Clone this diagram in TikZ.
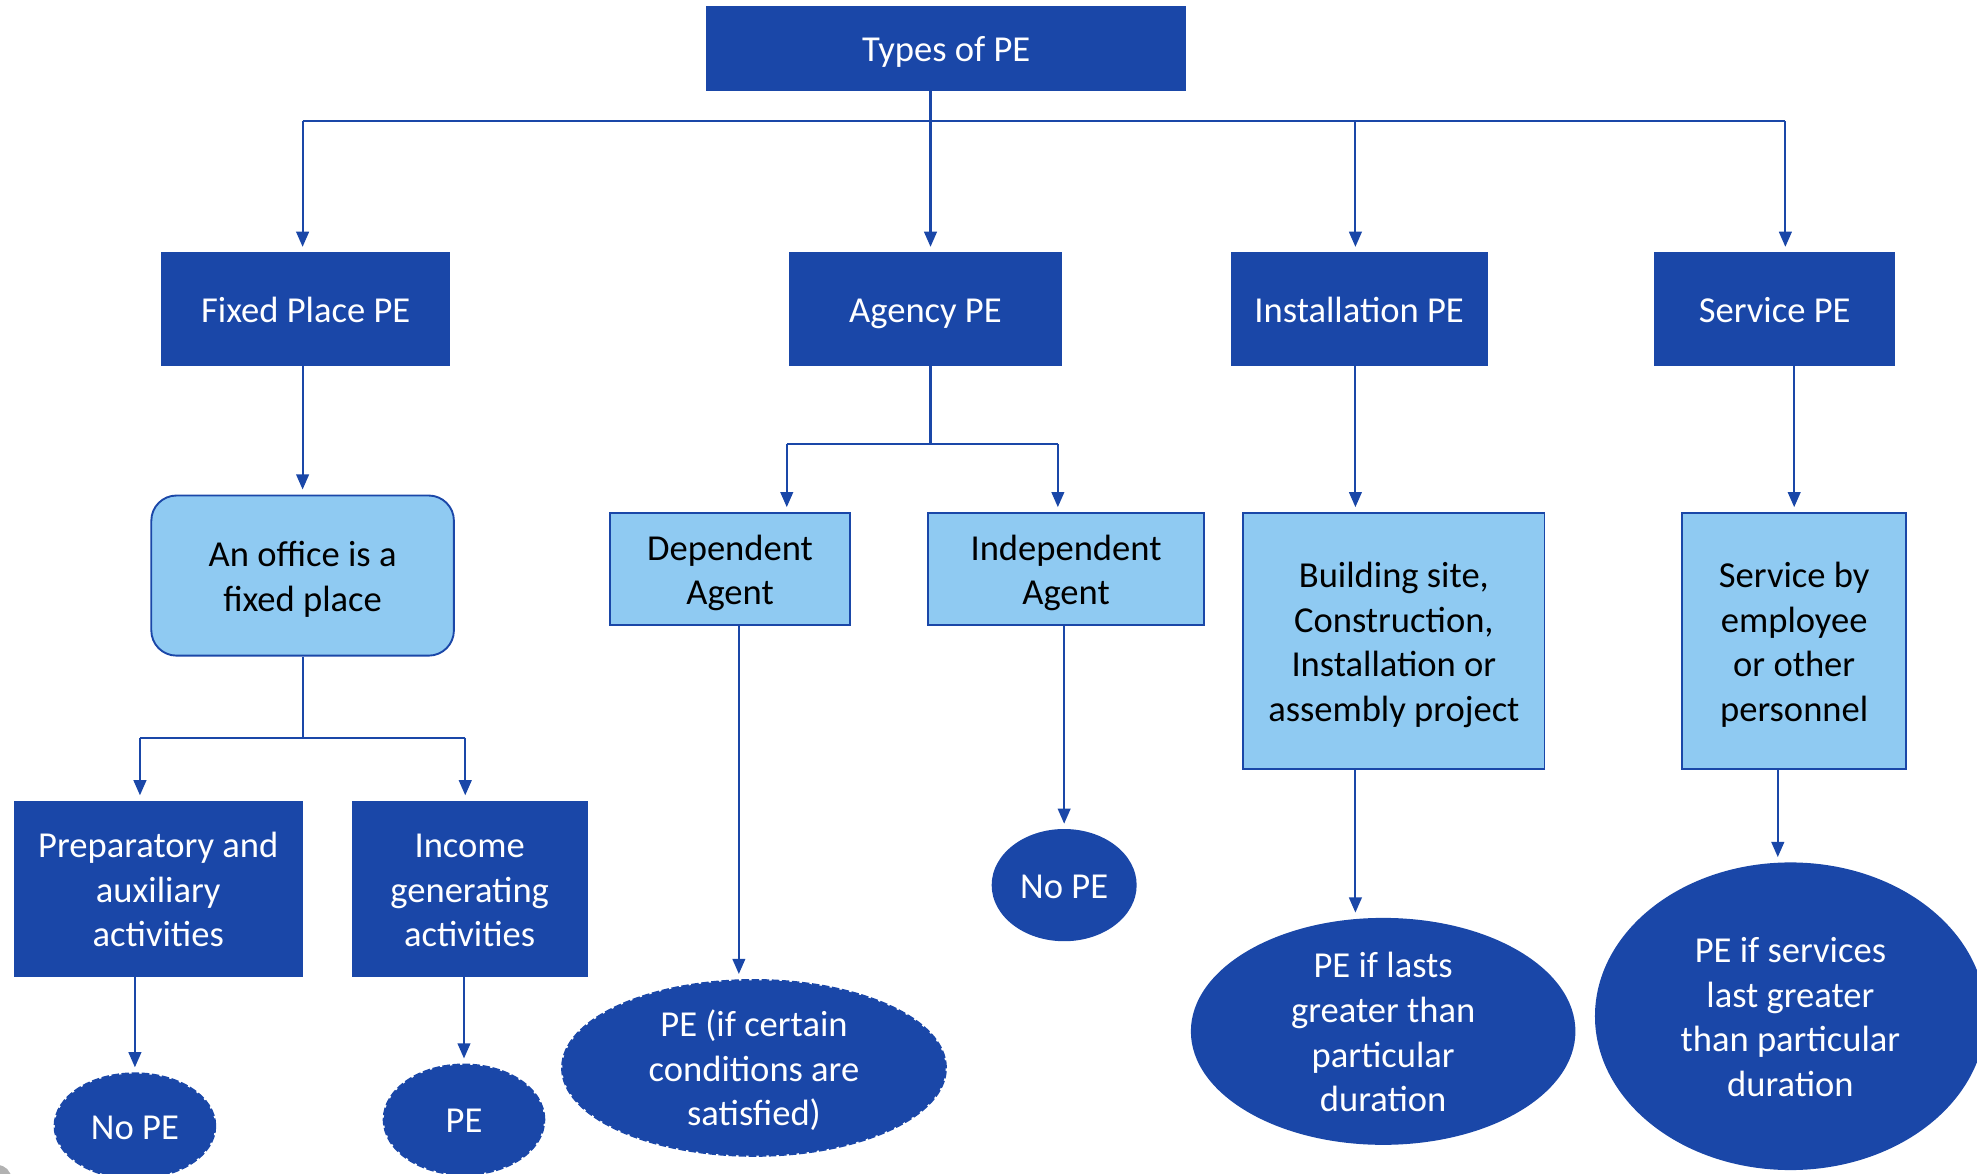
\documentclass[tikz,border=0pt]{standalone}
\usepackage{fontspec}
\setmainfont{Carlito}
\usetikzlibrary{arrows.meta,shapes.geometric}
\definecolor{peblue}{RGB}{26,71,168}
\definecolor{pelight}{RGB}{143,202,242}
% fixed ascent for the first line of every label
\newcommand\topstrut{\rule{0pt}{28.5pt}}

\begin{document}
\begin{tikzpicture}[x=1pt,y=-1pt,
  every node/.style={font=\fontsize{29}{35.5}\selectfont, align=center, inner sep=0pt,
    execute at begin node={\rule{0pt}{28.5pt}},
    execute at end node={\rule[-7.5pt]{0pt}{0pt}}},
  darkbox/.style={rectangle, fill=peblue, text=white},
  lightbox/.style={rectangle, fill=pelight, draw=peblue, line width=1.5pt, text=black},
  roundbox/.style={lightbox, rounded corners=20pt},
  oval/.style={ellipse, fill=peblue, text=white, inner ysep=-16pt},
  ragged/.style={oval, draw=peblue, line width=2pt, dash pattern=on 6pt off 2pt},
  link/.style={draw=peblue, line width=1.7pt},
  arr/.style={link, -{Triangle[length=12pt,width=10pt]}, shorten >=4pt},
]
\useasboundingbox (0,0) rectangle (1568,931);
\clip (0,0) rectangle (1568,931);

% top level
\node[darkbox, minimum width=381pt, minimum height=67pt] (types) at (750.5,38.5) {Types of PE};

% four kinds of PE
\node[darkbox, minimum width=229pt, minimum height=90pt] (fixed)   at (242.5,245) {Fixed Place PE};
\node[darkbox, minimum width=216pt, minimum height=90pt] (agency)  at (734,245)   {Agency PE};
\node[darkbox, minimum width=204pt, minimum height=90pt] (install) at (1078,245)  {Installation PE};
\node[darkbox, minimum width=191pt, minimum height=90pt] (service) at (1407.5,245) {Service PE};

% fixed place branch
\node[roundbox, minimum width=240pt, minimum height=127pt] (office) at (240,456.5) {\topstrut An office is a\\fixed place};
\node[darkbox, minimum width=229pt, minimum height=140pt] (prep)   at (125.5,705) {\topstrut Preparatory and\\auxiliary\\activities};
\node[darkbox, minimum width=187pt, minimum height=140pt] (income) at (372.5,705) {\topstrut Income\\generating\\activities};
\node[ragged, minimum width=127pt, minimum height=83pt] (nope1) at (107,893) {No PE};
\node[ragged, minimum width=127pt, minimum height=87pt] (pe1)   at (368,888) {PE};

% agency branch
\node[lightbox, minimum width=190pt, minimum height=89pt] (dep)   at (579,451.5)   {\topstrut Dependent\\Agent};
\node[lightbox, minimum width=219pt, minimum height=89pt] (indep) at (845.5,451.5) {\topstrut Independent\\Agent};
\node[ragged, minimum width=304pt, minimum height=139pt] (pecond) at (598,847) {\topstrut PE (if certain\\conditions are\\satisfied)};
\node[oval, minimum width=115pt, minimum height=89pt] (nope2) at (844,702) {No PE};

% installation branch
\node[lightbox, minimum width=239pt, minimum height=203pt] (instbox) at (1105.5,508.5) {\topstrut Building site,\\Construction,\\Installation or\\assembly project};
\node[oval, minimum width=305pt, minimum height=180pt] (pelast) at (1097,818) {\topstrut PE if lasts\\greater than\\particular\\duration};

% service branch
\node[lightbox, minimum width=178pt, minimum height=203pt] (servbox) at (1423,508.5) {\topstrut Service by\\employee\\or other\\personnel};
\node[oval, minimum width=310pt, minimum height=244pt] (peserv) at (1420,806) {\topstrut PE if services\\last greater\\than particular\\duration};

% junction points
\coordinate (busL) at (240,96);
\coordinate (tA)   at (738,96);
\coordinate (busI) at (1075,96);
\coordinate (busR) at (1416,96);
\coordinate (fL) at (111,585);
\coordinate (fR) at (369,585);
\coordinate (aL) at (624,352);
\coordinate (aM) at (738,352);
\coordinate (aR) at (839,352);
\coordinate (d1) at (586,0);
\coordinate (i1) at (1075,0);
\coordinate (s1) at (1423,0);
\coordinate (s2) at (1410,0);

% connectors from the top
\draw[link] (busL) -- (busR);
\draw[arr] (tA |- types.south) -- (tA |- agency.north);
\draw[arr] (busL) -- (busL |- fixed.north);
\draw[arr] (busI) -- (busI |- install.north);
\draw[arr] (busR) -- (busR |- service.north);

% fixed place connectors
\draw[arr] (fixed.south -| office.north) -- (office.north);
\draw[link] (office.south) -- (office.south |- fL);
\draw[link] (fL) -- (fR);
\draw[arr] (fL) -- (fL |- prep.north);
\draw[arr] (fR) -- (fR |- income.north);
\draw[arr] (prep.south -| nope1.north) -- (nope1.north);
\draw[arr] (income.south -| pe1.north) -- (pe1.north);

% agency connectors
\draw[link] (aM |- agency.south) -- (aM);
\draw[link] (aL) -- (aR);
\draw[arr] (aL) -- (aL |- dep.north);
\draw[arr] (aR) -- (aR |- indep.north);
\draw[arr] (d1 |- dep.south) -- (d1 |- pecond.north);
\draw[arr] (indep.south -| nope2.north) -- (nope2.north);

% installation connectors
\draw[arr] (i1 |- install.south) -- (i1 |- instbox.north);
\draw[arr] (i1 |- instbox.south) -- (i1 |- pelast.north);

% service connectors
\draw[arr] (s1 |- service.south) -- (s1 |- servbox.north);
\draw[arr] (s2 |- servbox.south) -- (s2 |- peserv.north);

% corner mark
\fill[gray!60] (-2,935) circle (11);
\end{tikzpicture}
\end{document}
